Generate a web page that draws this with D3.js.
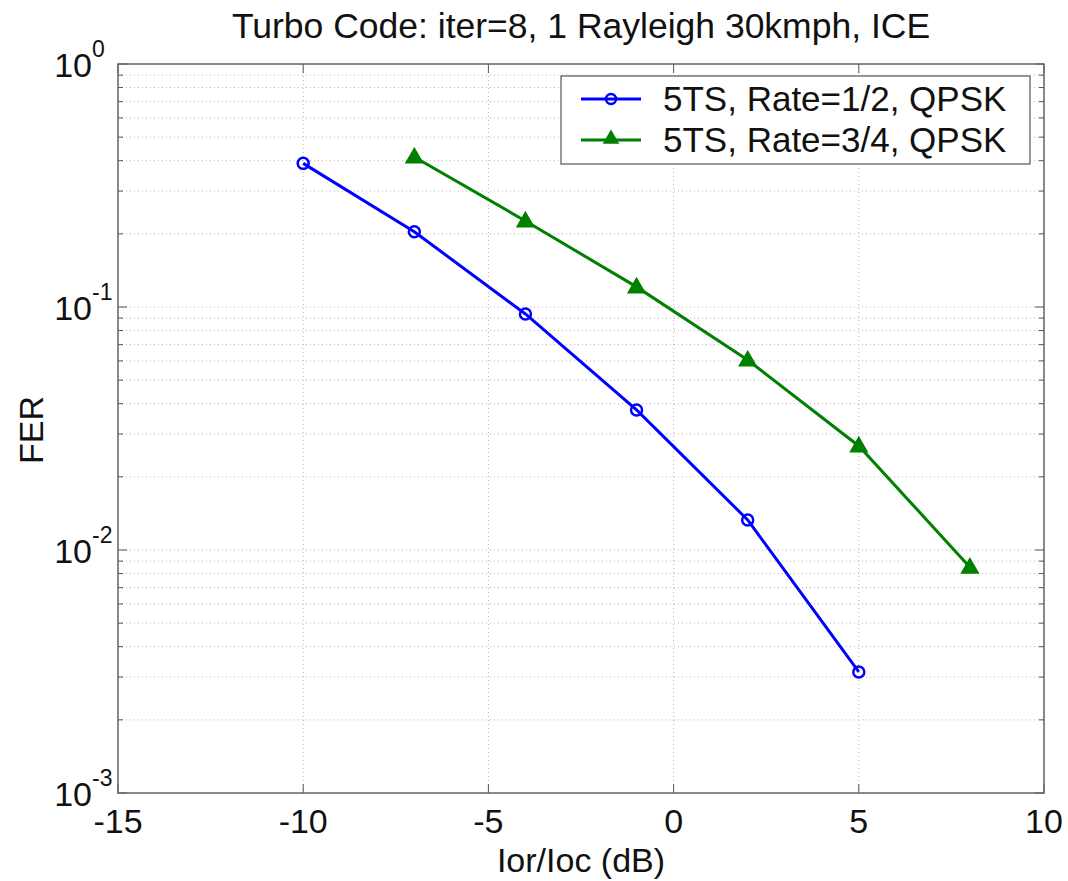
<!DOCTYPE html>
<html>
<head>
<meta charset="utf-8">
<script src="https://cdn.jsdelivr.net/npm/d3@7"></script>
<style>
  body { margin: 0; background: #fff; }
  text { font-family: "Liberation Sans", Arial, sans-serif; fill: #111; }
</style>
</head>
<body>
<div id="chart"></div>
<script>
// data
const xValsBlue = [-10, -7, -4, -1, 2, 5];
const ferBlue = [0.39, 0.204, 0.0936, 0.0377, 0.0133, 0.00315];
const xValsGreen = [-7, -4, -1, 2, 5, 8];
const ferGreen = [0.414, 0.226, 0.121, 0.0605, 0.0268, 0.0085];
const xTicks = [-15, -10, -5, 0, 5, 10];
const yExps = [0, -1, -2, -3];
const legendLabels = ["5TS, Rate=1/2, QPSK", "5TS, Rate=3/4, QPSK"];

var margin = {top: 64, right: 24, bottom: 88, left: 118},
  width = 1068 - margin.left - margin.right,
  height = 881 - margin.top - margin.bottom;

var svg = d3.select("#chart").append("svg")
  .attr("width", 1068).attr("height", 881);

var g = svg.append("g")
  .attr("transform", "translate(" + margin.left + "," + margin.top + ")");

var xScale = d3.scaleLinear().domain([-15, 10]).range([0, width]);
var yScale = d3.scaleLog().domain([1e-3, 1]).range([height, 0]);

// grid: dotted lines, major and minor
var minorVals = [];
for (var e = -3; e < 0; e++) {
  for (var m = 1; m < 10; m++) minorVals.push(m * Math.pow(10, e));
}
minorVals.push(1);

g.selectAll(".hgrid").data(minorVals).enter().append("line")
  .attr("x1", 0).attr("x2", width)
  .attr("y1", d => yScale(d)).attr("y2", d => yScale(d))
  .attr("stroke", "#b4b4b4").attr("stroke-width", 1)
  .attr("stroke-dasharray", "1,3");

g.selectAll(".vgrid").data(xTicks).enter().append("line")
  .attr("y1", 0).attr("y2", height)
  .attr("x1", d => xScale(d)).attr("x2", d => xScale(d))
  .attr("stroke", "#b4b4b4").attr("stroke-width", 1)
  .attr("stroke-dasharray", "1,3");

// inside ticks on all four sides
var tickG = g.append("g").attr("stroke", "#555").attr("stroke-width", 1);
xTicks.forEach(function(d) {
  tickG.append("line").attr("x1", xScale(d)).attr("x2", xScale(d)).attr("y1", height).attr("y2", height - 9);
  tickG.append("line").attr("x1", xScale(d)).attr("x2", xScale(d)).attr("y1", 0).attr("y2", 9);
});
minorVals.forEach(function(d) {
  var major = Math.abs(Math.log10(d) - Math.round(Math.log10(d))) < 1e-9;
  var len = major ? 9 : 5;
  tickG.append("line").attr("x1", 0).attr("x2", len).attr("y1", yScale(d)).attr("y2", yScale(d));
  tickG.append("line").attr("x1", width).attr("x2", width - len).attr("y1", yScale(d)).attr("y2", yScale(d));
});

// frame
g.append("rect").attr("width", width).attr("height", height)
  .attr("fill", "none").attr("stroke", "#666").attr("stroke-width", 1.5);

// x tick labels
g.selectAll(".xlab").data(xTicks).enter().append("text")
  .attr("x", d => xScale(d)).attr("y", height + 40)
  .attr("text-anchor", "middle").style("font-size", "34px")
  .text(d => d);

// y tick labels: 10 with superscript exponent
yExps.forEach(function(ex) {
  var yy = yScale(Math.pow(10, ex));
  g.append("text")
    .attr("x", -26).attr("y", yy + 13)
    .attr("text-anchor", "end").style("font-size", "34px").text("10");
  g.append("text")
    .attr("x", -26).attr("y", yy - 7)
    .attr("text-anchor", "start").style("font-size", "23px").text(ex);
});

// series
var series = [
  {x: xValsBlue, y: ferBlue, color: "#0000ff", marker: "circle"},
  {x: xValsGreen, y: ferGreen, color: "#008000", marker: "triangle"}
];

var line = d3.line().x(d => xScale(d[0])).y(d => yScale(d[1]));
var tri = d3.symbol().type(d3.symbolTriangle).size(120);

series.forEach(function(s) {
  var pts = s.x.map((v, i) => [v, s.y[i]]);
  g.append("path").datum(pts).attr("d", line)
    .attr("fill", "none").attr("stroke", s.color).attr("stroke-width", 3);
  if (s.marker === "circle") {
    g.selectAll(null).data(pts).enter().append("circle")
      .attr("cx", d => xScale(d[0])).attr("cy", d => yScale(d[1])).attr("r", 5.5)
      .attr("fill", "none").attr("stroke", s.color).attr("stroke-width", 2.5);
  } else {
    g.selectAll(null).data(pts).enter().append("path")
      .attr("d", tri)
      .attr("transform", d => "translate(" + xScale(d[0]) + "," + (yScale(d[1]) + 1) + ")")
      .attr("fill", s.color).attr("stroke", s.color).attr("stroke-width", 1.5);
  }
});

// legend
var leg = svg.append("g").attr("transform", "translate(561,76)");
leg.append("rect").attr("width", 469).attr("height", 88)
  .attr("fill", "#fff").attr("stroke", "#555").attr("stroke-width", 1.2);
series.forEach(function(s, i) {
  var yy = 23 + i * 41;
  leg.append("line").attr("x1", 20).attr("x2", 80).attr("y1", yy).attr("y2", yy)
    .attr("stroke", s.color).attr("stroke-width", 3);
  if (s.marker === "circle") {
    leg.append("circle").attr("cx", 50).attr("cy", yy).attr("r", 5)
      .attr("fill", "none").attr("stroke", s.color).attr("stroke-width", 2.5);
  } else {
    leg.append("path").attr("d", tri).attr("transform", "translate(50," + (yy - 1) + ")")
      .attr("fill", s.color);
  }
  leg.append("text").attr("x", 102).attr("y", yy + 12)
    .style("font-size", "35px").text(legendLabels[i]);
});

// title and axis labels
svg.append("text").attr("x", 581).attr("y", 38).attr("text-anchor", "middle")
  .style("font-size", "35.5px").text("Turbo Code: iter=8, 1 Rayleigh 30kmph, ICE");
svg.append("text").attr("x", 581).attr("y", 872).attr("text-anchor", "middle")
  .style("font-size", "34px").text("Ior/Ioc (dB)");
svg.append("text").attr("transform", "translate(43,430) rotate(-90)")
  .attr("text-anchor", "middle").style("font-size", "34px").text("FER");
</script>
</body>
</html>
